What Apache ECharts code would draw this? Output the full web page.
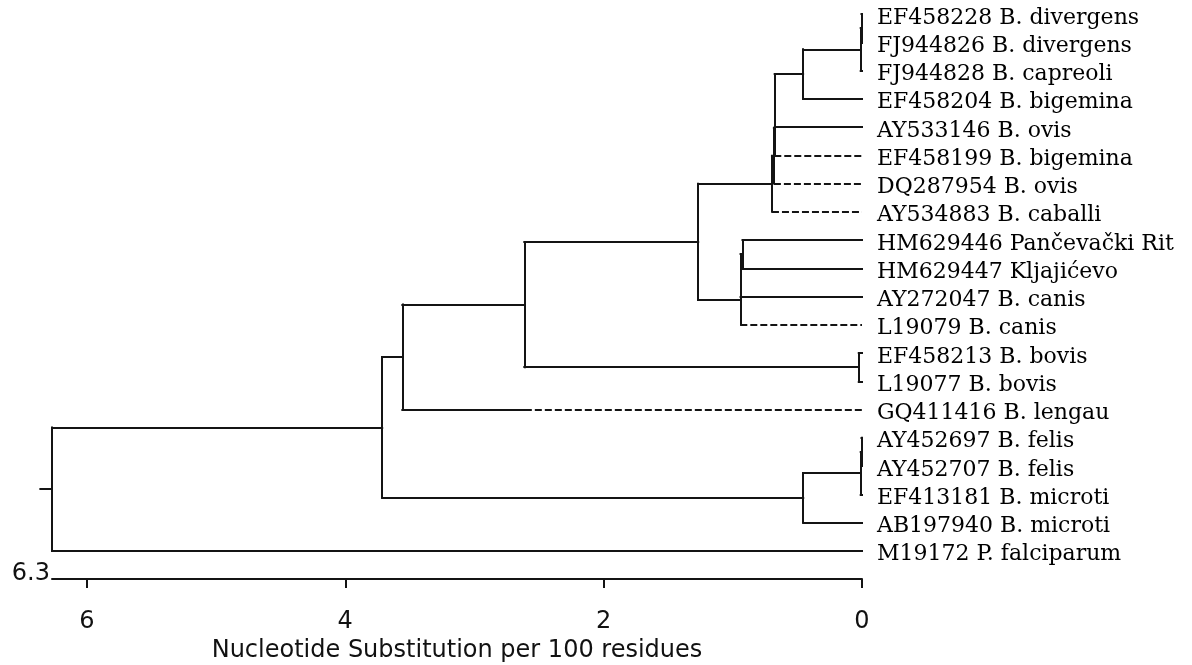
<!DOCTYPE html>
<html>
<head>
<meta charset="utf-8">
<title>Babesia 18S tree</title>
<script src="https://cdn.jsdelivr.net/npm/echarts@6/dist/echarts.min.js"></script>
<style>
  html, body { margin: 0; padding: 0; background: #fff; }
  #tree { width: 1192px; height: 665px; }
</style>
</head>
<body>
<div id="tree"></div>
<script>
// leaf labels, top to bottom (row index = position in this list)
const leaves = [
    'EF458228 B. divergens',
    'FJ944826 B. divergens',
    'FJ944828 B. capreoli',
    'EF458204 B. bigemina',
    'AY533146 B. ovis',
    'EF458199 B. bigemina',
    'DQ287954 B. ovis',
    'AY534883 B. caballi',
    'HM629446 Pančevački Rit',
    'HM629447 Kljajićevo',
    'AY272047 B. canis',
    'L19079 B. canis',
    'EF458213 B. bovis',
    'L19077 B. bovis',
    'GQ411416 B. lengau',
    'AY452697 B. felis',
    'AY452707 B. felis',
    'EF413181 B. microti',
    'AB197940 B. microti',
    'M19172 P. falciparum'
];

// rows with a dashed branch, and where the dashes start (null = right at the parent node)
const dashedRows = [5, 6, 7, 11, 14];
const dashFrom = [null, null, null, null, 2.61];

// internal nodes: height (substitutions per 100 residues) and children (leaf row or node id)
const nodeIds = ['a1', 'a2', 'b', 'n1', 'n2', 'n3', 'n4', 'c1', 'c2', 'c3', 'e', 'bov', 'f', 'g', 'f1', 'f2', 'h', 'i', 'root'];
const nodeHeights = [0.004, 0.01, 0.456, 0.676, 0.679, 0.682, 0.697, 0.925, 0.94, 0.942, 1.268, 0.025, 2.614, 3.558, 0.004, 0.01, 0.455, 3.714, 6.27];
const nodeChildren = [
    [0, 1], ['a1', 2], ['a2', 3], ['b', 4], ['n1', 5], ['n2', 6], ['n3', 7],
    [8, 9], ['c1', 10], ['c2', 11], ['n4', 'c3'], [12, 13], ['e', 'bov'], ['f', 14],
    [15, 16], ['f1', 17], ['f2', 18], ['g', 'h'], ['i', 19]
];

const rootStem = 0.09;
const xMax = 6.27;
const xTicks = [0, 2, 4, 6];
const rootLabel = '6.3';

const nodes = {};
nodeIds.forEach((id, i) => { nodes[id] = { h: nodeHeights[i], kids: nodeChildren[i] }; });

function heightOf(c) { return typeof c === 'number' ? 0 : nodes[c].h; }
function rowOf(c) {
    if (typeof c === 'number') return c;
    const k = nodes[c].kids;
    return (rowOf(k[0]) + rowOf(k[k.length - 1])) / 2;
}

const solid = [];
const dashed = [];
nodeIds.forEach(id => {
    const n = nodes[id];
    const ys = n.kids.map(rowOf);
    solid.push([[n.h, Math.min(...ys)], [n.h, Math.max(...ys)]]);
    n.kids.forEach((c, j) => {
        const y = ys[j];
        const h0 = heightOf(c);
        const k = typeof c === 'number' ? dashedRows.indexOf(c) : -1;
        if (k < 0) { solid.push([[n.h, y], [h0, y]]); return; }
        const from = dashFrom[k] == null ? n.h : dashFrom[k];
        if (from < n.h) solid.push([[n.h, y], [from, y]]);
        dashed.push([[from, y], [h0, y]]);
    });
});
const root = nodes.root;
solid.push([[root.h, rowOf('root')], [root.h + rootStem, rowOf('root')]]);

const ink = '#141414';
const option = {
    animation: false,
    grid: { left: 52, right: 330, top: 14, bottom: 86, outerBoundsMode: 'none' },
    xAxis: [{
        type: 'value',
        inverse: true,
        min: 0,
        max: xMax,
        splitLine: { show: false },
        axisLine: { onZero: false, lineStyle: { color: ink, width: 2 } },
        axisTick: { customValues: xTicks, length: 9, lineStyle: { color: ink, width: 2 } },
        axisLabel: { customValues: xTicks, margin: 31, fontFamily: 'DejaVu Sans', fontSize: 24, color: '#111' },
        name: 'Nucleotide Substitution per 100 residues',
        nameLocation: 'middle',
        nameGap: 57,
        nameTextStyle: { fontFamily: 'DejaVu Sans', fontSize: 24, color: '#111' }
    }, {
        type: 'value',
        inverse: true,
        min: 0,
        max: xMax,
        position: 'bottom',
        splitLine: { show: false },
        axisLine: { show: false, onZero: false },
        axisTick: { show: false },
        axisLabel: { show: false },
        name: rootLabel,
        nameLocation: 'end',
        nameGap: 2,
        nameTextStyle: { fontFamily: 'DejaVu Sans', fontSize: 24, color: '#111', verticalAlign: 'bottom', lineHeight: 10 }
    }],
    yAxis: { type: 'value', inverse: true, min: 0, max: 20, show: false },
    series: [
        {
            type: 'lines',
            coordinateSystem: 'cartesian2d',
            clip: false,
            silent: true,
            lineStyle: { color: ink, width: 2, opacity: 1, cap: 'square' },
            data: solid.map(c => ({ coords: c }))
        },
        {
            type: 'lines',
            coordinateSystem: 'cartesian2d',
            clip: false,
            silent: true,
            lineStyle: { color: ink, width: 2, opacity: 1, type: [7, 3] },
            data: dashed.map(c => ({ coords: c }))
        },
        {
            type: 'scatter',
            clip: false,
            silent: true,
            symbolSize: 0,
            itemStyle: { opacity: 1 },
            data: leaves.map((name, i) => ({ name: name, value: [0, i] })),
            label: {
                show: true,
                position: 'right',
                distance: 15,
                offset: [0, 4],
                formatter: '{b}',
                fontFamily: 'DejaVu Serif',
                fontSize: 22,
                color: '#000',
                opacity: 1
            }
        }
    ]
};

const chart = echarts.init(document.getElementById('tree'));
chart.setOption(option);
</script>
</body>
</html>
